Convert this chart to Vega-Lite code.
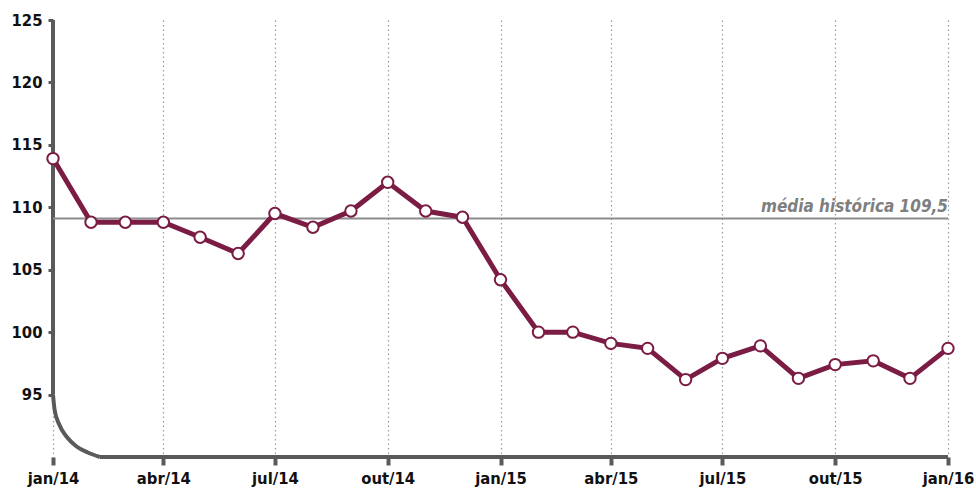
{
  "$schema": "https://vega.github.io/schema/vega-lite/v6.json",
  "autosize": "none",
  "width": 895,
  "height": 437,
  "padding": {"left": 53, "top": 20, "right": 28, "bottom": 38},
  "background": "white",
  "config": {
    "view": {"stroke": null},
    "axis": {"labelFont": "DejaVu Sans Condensed, Roboto, sans-serif", "labelFontWeight": "bold", "labelFontSize": 16.5, "labelColor": "#111"}
  },
  "datasets": {
    "serie": [
      {"mes": "2014-01-01", "valor": 113.9},
      {"mes": "2014-02-01", "valor": 108.8},
      {"mes": "2014-03-01", "valor": 108.8},
      {"mes": "2014-04-01", "valor": 108.8},
      {"mes": "2014-05-01", "valor": 107.6},
      {"mes": "2014-06-01", "valor": 106.3},
      {"mes": "2014-07-01", "valor": 109.5},
      {"mes": "2014-08-01", "valor": 108.4},
      {"mes": "2014-09-01", "valor": 109.7},
      {"mes": "2014-10-01", "valor": 112.0},
      {"mes": "2014-11-01", "valor": 109.7},
      {"mes": "2014-12-01", "valor": 109.2},
      {"mes": "2015-01-01", "valor": 104.2},
      {"mes": "2015-02-01", "valor": 100.0},
      {"mes": "2015-03-01", "valor": 100.0},
      {"mes": "2015-04-01", "valor": 99.1},
      {"mes": "2015-05-01", "valor": 98.7},
      {"mes": "2015-06-01", "valor": 96.2},
      {"mes": "2015-07-01", "valor": 97.9},
      {"mes": "2015-08-01", "valor": 98.9},
      {"mes": "2015-09-01", "valor": 96.3},
      {"mes": "2015-10-01", "valor": 97.4},
      {"mes": "2015-11-01", "valor": 97.7},
      {"mes": "2015-12-01", "valor": 96.3},
      {"mes": "2016-01-01", "valor": 98.7}
    ],
    "curva": [
      {"mes": "2014-01-01T00:00:00", "valor": 95.0, "ordem": 0},
      {"mes": "2014-01-02T08:00:00", "valor": 93.76, "ordem": 1},
      {"mes": "2014-01-06T02:00:00", "valor": 92.6, "ordem": 2},
      {"mes": "2014-01-12T07:00:00", "valor": 91.6, "ordem": 3},
      {"mes": "2014-01-20T05:00:00", "valor": 90.84, "ordem": 4},
      {"mes": "2014-01-29T10:00:00", "valor": 90.36, "ordem": 5},
      {"mes": "2014-02-08T07:00:00", "valor": 90.0, "ordem": 6}
    ]
  },
  "layer": [
    {
      "data": {"name": "serie"},
      "mark": {"type": "rule", "strokeWidth": 0},
      "encoding": {
        "x": {
          "field": "mes", "type": "temporal",
          "scale": {"type": "utc", "domain": ["2014-01-01", "2016-01-01"]},
          "axis": {
            "title": null, "domain": false,
            "tickCount": {"interval": "month", "step": 3},
            "grid": true, "gridColor": "#9a9a9a", "gridDash": [1.5, 3], "gridWidth": 1.2,
            "ticks": true, "tickSize": 8, "tickWidth": 4, "tickColor": "#5a5a5a",
            "labelPadding": 5, "labelFlush": false, "labelOverlap": false, "labelBound": false,
            "labelExpr": "['jan','fev','mar','abr','mai','jun','jul','ago','set','out','nov','dez'][utcmonth(datum.value)] + '/' + utcFormat(datum.value, '%y')"
          }
        },
        "y": {
          "field": "valor", "type": "quantitative",
          "scale": {"domain": [90, 125], "nice": false, "zero": false},
          "axis": {
            "title": null, "domain": false, "grid": false,
            "values": [95, 100, 105, 110, 115, 120, 125],
            "tickSize": 5, "tickWidth": 3, "tickColor": "#5a5a5a", "labelPadding": 6,
            "labelFlush": false, "labelOverlap": false
          }
        }
      }
    },
    {
      "data": {"values": [{"mes": "2014-01-01", "topo": 125, "base": 95}]},
      "mark": {"type": "rule", "color": "#5a5a5a", "strokeWidth": 4},
      "encoding": {
        "x": {"field": "mes", "type": "temporal"},
        "y": {"field": "topo", "type": "quantitative"},
        "y2": {"field": "base"}
      }
    },
    {
      "data": {"values": [{"ini": "2014-02-08T07:00:00", "fim": "2016-01-01", "v": 90}]},
      "mark": {"type": "rule", "color": "#5a5a5a", "strokeWidth": 4},
      "encoding": {
        "x": {"field": "ini", "type": "temporal"},
        "x2": {"field": "fim"},
        "y": {"field": "v", "type": "quantitative"}
      }
    },
    {
      "data": {"name": "curva"},
      "mark": {"type": "line", "color": "#5a5a5a", "strokeWidth": 4, "interpolate": "monotone"},
      "encoding": {
        "x": {"field": "mes", "type": "temporal"},
        "y": {"field": "valor", "type": "quantitative"},
        "order": {"field": "ordem"}
      }
    },
    {
      "data": {"values": [{"media": 109.1, "rotulo": "média histórica 109,5"}]},
      "layer": [
        {
          "mark": {"type": "rule", "color": "#8c8c8c", "strokeWidth": 2},
          "encoding": {"y": {"field": "media", "type": "quantitative"}}
        },
        {
          "mark": {"type": "text", "align": "right", "baseline": "bottom", "dy": -3, "x": "width", "font": "DejaVu Sans Condensed, Roboto, sans-serif", "fontStyle": "italic", "fontWeight": "bold", "fontSize": 17, "color": "#7f7f7f"},
          "encoding": {
            "y": {"field": "media", "type": "quantitative"},
            "text": {"field": "rotulo"}
          }
        }
      ]
    },
    {
      "data": {"name": "serie"},
      "mark": {"type": "line", "color": "#7b1c44", "strokeWidth": 5, "point": {"filled": true, "fill": "white", "stroke": "#7b1c44", "strokeWidth": 2, "size": 130, "opacity": 1}},
      "encoding": {
        "x": {"field": "mes", "type": "temporal"},
        "y": {"field": "valor", "type": "quantitative"}
      }
    }
  ]
}
